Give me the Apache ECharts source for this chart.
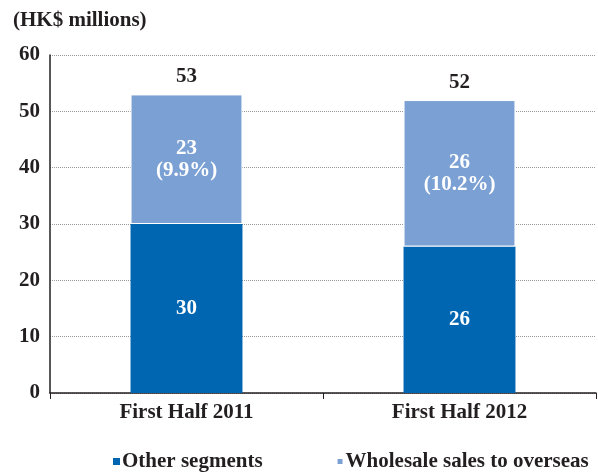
<!DOCTYPE html>
<html><head><meta charset="utf-8">
<script src="https://cdn.jsdelivr.net/npm/echarts@6/dist/echarts.min.js"></script>
<style>html,body{margin:0;padding:0;background:#fff}#c{width:598px;height:474px}</style>
</head><body><div id="c"></div>
<script>
const categories = ["First Half 2011", "First Half 2012"];
const otherSegments = [30, 26];
const wholesaleOverseas = [23, 26];
const wholesaleShare = ["9.9%", "10.2%"];
const totals = [53, 52];
const yTicks = [0, 10, 20, 30, 40, 50, 60];

const FONT = "'Liberation Serif', 'DejaVu Serif', serif";
const TXT = '#231f20';
const chart = echarts.init(document.getElementById('c'));
chart.setOption({
  animation: false,
  textStyle: { fontFamily: FONT },
  title: {
    text: "(HK$ millions)", left: 8, top: 5,
    textStyle: { fontFamily: FONT, fontWeight: 'bold', fontSize: 21, color: TXT }
  },
  legend: {
    bottom: -3, left: 108, itemGap: 73, itemWidth: 7, itemHeight: 7,
    icon: 'rect',
    textStyle: { fontFamily: FONT, fontWeight: 'bold', fontSize: 21, color: TXT, padding: [0, 0, 0, -3] },
    data: ["Other segments", "Wholesale sales to overseas"]
  },
  grid: { left: 50, right: 2, top: 55, bottom: 81 },
  xAxis: {
    type: 'category', data: categories,
    axisLine: { lineStyle: { color: TXT, width: 1.5 } },
    axisTick: { show: true, length: 6, lineStyle: { color: TXT } },
    axisLabel: { fontFamily: FONT, fontWeight: 'bold', fontSize: 21, color: TXT, margin: 9 }
  },
  yAxis: {
    type: 'value', min: yTicks[0], max: yTicks[yTicks.length - 1], interval: 10,
    axisLine: { show: true, lineStyle: { color: TXT, width: 1.5 } },
    axisTick: { show: false },
    axisLabel: { fontFamily: FONT, fontWeight: 'bold', fontSize: 21, color: TXT, margin: 10 },
    splitLine: { lineStyle: { type: [1, 1], color: '#999', width: 1 } }
  },
  series: [
    {
      name: "Other segments", type: 'bar', stack: 's', barWidth: '41%',
      data: otherSegments,
      itemStyle: { color: '#0066b2' },
      label: { show: true, position: 'inside', color: '#fff', fontFamily: FONT, fontWeight: 'bold', fontSize: 21 }
    },
    {
      name: "Wholesale sales to overseas", type: 'bar', stack: 's', barWidth: '41%',
      data: wholesaleOverseas,
      itemStyle: { color: '#7ba0d3', borderColor: '#fff', borderWidth: 1 },
      label: {
        show: true, position: 'inside', color: '#fff', fontFamily: FONT, fontWeight: 'bold', fontSize: 21, lineHeight: 22,
        formatter: p => p.value + "\n(" + wholesaleShare[p.dataIndex] + ")"
      }
    },
    {
      name: 'total', type: 'scatter', data: totals, symbolSize: 0, silent: true,
      itemStyle: { opacity: 1 },
      label: {
        show: true, position: 'top', distance: 7,
        color: TXT, fontFamily: FONT, fontWeight: 'bold', fontSize: 21
      }
    }
  ]
});
</script></body></html>
